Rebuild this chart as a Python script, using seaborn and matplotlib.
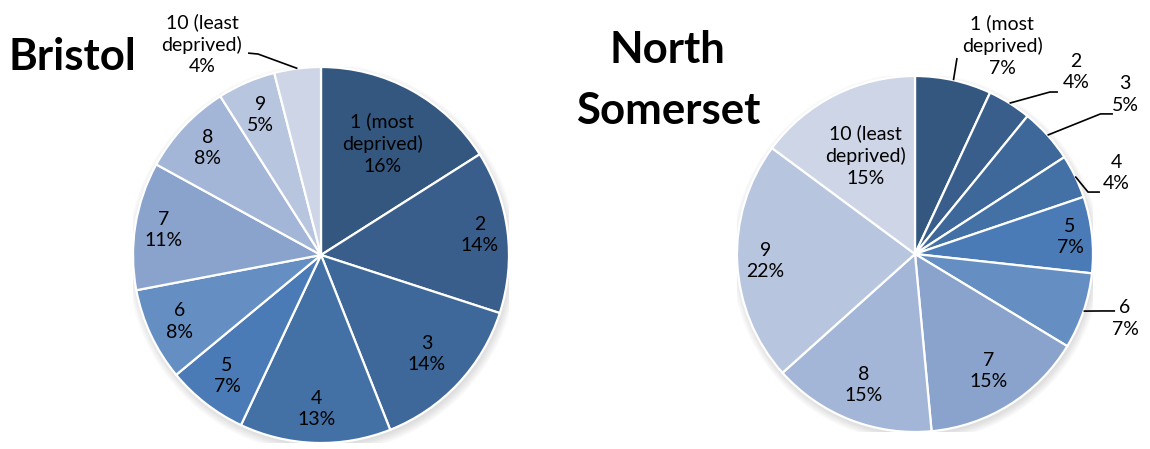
import matplotlib
matplotlib.use("Agg")
import matplotlib.pyplot as plt
from matplotlib.patches import Circle
import numpy as np
import seaborn as sns

# ---- data ----
deciles = ["1 (most\ndeprived)", "2", "3", "4", "5", "6", "7", "8", "9",
           "10 (least\ndeprived)"]
bristol_pct = [16, 14, 14, 13, 7, 8, 11, 8, 5, 4]
north_somerset_pct = [7, 4, 5, 4, 7, 7, 15, 15, 22, 15]
area_titles = ["Bristol", "North\nSomerset"]

slice_colors = ["#34577F", "#3A5E8C", "#3D6899", "#4371A6", "#4A7BB7",
                "#658FC3", "#89A3CC", "#A3B6D7", "#B8C5DF", "#CDD5E6"]

sns.set_theme(style="white")
plt.rcParams["font.family"] = ["Lato", "DejaVu Sans"]
palette = sns.color_palette(slice_colors)

W, H = 1150, 449
fig = plt.figure(figsize=(W / 100, H / 100), dpi=100)
fig.patch.set_facecolor("white")

LABEL_FS = 14
LINESP = 1.32


def pie_axes(cx, cy, r):
    ax = fig.add_axes([(cx - r) / W, (H - cy - r) / H, 2 * r / W, 2 * r / H])
    return ax


def draw_pie(ax, values, inside_dist, outside):
    # soft shadow
    for k in range(7):
        ax.add_patch(Circle((0.008, -0.02), 0.995 + 0.007 * k, color="#8c8c8c",
                            alpha=0.045, lw=0, zorder=0))
    wedges, _ = ax.pie(values, colors=palette, startangle=90, counterclock=False,
                       radius=1.0,
                       wedgeprops=dict(edgecolor="white", linewidth=1.6, zorder=2))
    for i, w in enumerate(wedges):
        mid = np.deg2rad((w.theta1 + w.theta2) / 2)
        label = f"{deciles[i]}\n{values[i]}%"
        if i in outside:
            (tx, ty), pts = outside[i]
            xs = [np.cos(mid)] + [p[0] for p in pts]
            ys = [np.sin(mid)] + [p[1] for p in pts]
            ax.plot(xs, ys, color="black", lw=1.2, zorder=3, clip_on=False,
                    solid_capstyle="butt")
            ax.text(tx, ty, label, ha="center", va="center", fontsize=LABEL_FS,
                    linespacing=LINESP, color="black", zorder=4)
        else:
            d = inside_dist[i]
            ax.text(d * np.cos(mid), d * np.sin(mid), label, ha="center",
                    va="center", fontsize=LABEL_FS, linespacing=LINESP,
                    color="black", zorder=4)
    ax.set_xlim(-1, 1)
    ax.set_ylim(-1, 1)
    ax.axis("off")


# Bristol
ax1 = pie_axes(321, 255, 188)
draw_pie(ax1, bristol_pct,
         inside_dist=[0.675, 0.85, 0.77, 0.82, 0.815, 0.83, 0.85, 0.83, 0.81, None],
         outside={9: ((-0.633, 1.122), [(-0.335, 1.069), (-0.388, 1.074)])})

# North Somerset
ax2 = pie_axes(915, 254, 178)
draw_pie(ax2, north_somerset_pct,
         inside_dist=[None, None, None, None, 0.876, None, 0.777, 0.79, 0.84, 0.62],
         outside={
             0: ((0.489, 1.171), [(0.236, 1.101)]),
             1: ((0.904, 1.022), [(0.758, 0.910), (0.803, 0.910)]),
             2: ((1.18, 0.896), [(1.042, 0.787), (1.112, 0.787)]),
             3: ((1.129, 0.455), [(0.972, 0.348), (1.039, 0.348)]),
             5: ((1.18, -0.362), [(1.051, -0.320), (1.124, -0.320)]),
         })

# titles
TITLE_FS = 31.5
fig.text(72 / W, 1 - 70 / H, area_titles[0], ha="center", va="baseline",
         fontsize=TITLE_FS, fontweight="bold", color="black")
t_lines = area_titles[1].split("\n")
fig.text(667 / W, 1 - 63 / H, t_lines[0], ha="center", va="baseline",
         fontsize=TITLE_FS, fontweight="bold", color="black")
fig.text(668 / W, 1 - 124 / H, t_lines[1], ha="center", va="baseline",
         fontsize=TITLE_FS, fontweight="bold", color="black")

fig.savefig("out.png", dpi=100, facecolor="white")
